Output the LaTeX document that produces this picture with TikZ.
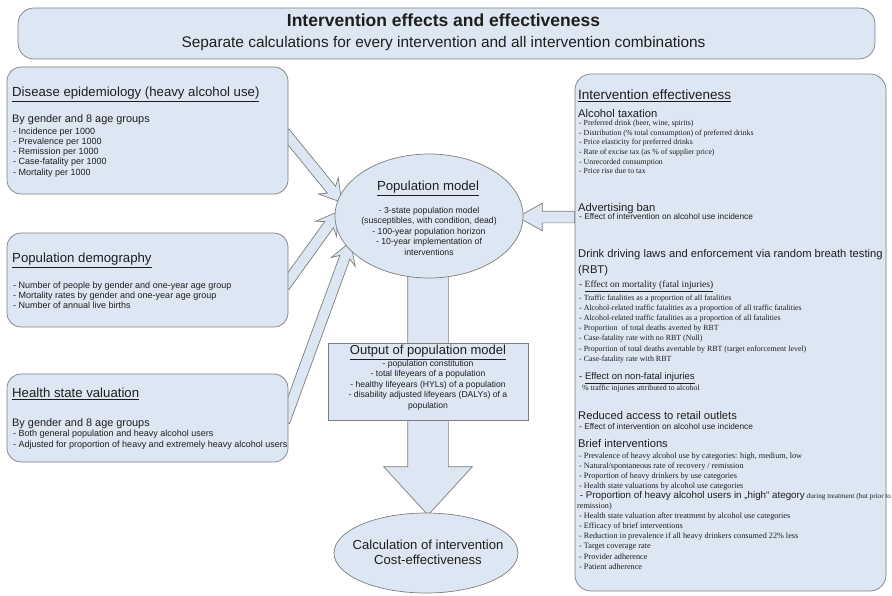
\documentclass[tikz,border=0pt]{standalone}
\usepackage{fontspec}
\setmainfont{Liberation Sans}
\newfontfamily\tnr{Liberation Serif}
\usetikzlibrary{shapes.geometric,shapes.arrows,calc}
\pgfdeclarelayer{bg}
\pgfsetlayers{bg,main}
\definecolor{boxfill}{RGB}{221,231,243}
\definecolor{boxline}{RGB}{125,125,125}
\definecolor{txt}{RGB}{30,30,30}
\newcommand\myfs[1]{\fontsize{#1}{#1}\selectfont}
\newcommand\hollow[4]{\path let \p1=($(#4)-(#3)$), \n1={veclen(\x1,\y1)}, \n2={atan2(\y1,\x1)} in node[#1, minimum height=\n1, rotate=\n2] (#2) at ($(#3)!0.5!(#4)$) {};}
\begin{document}
\begin{tikzpicture}[x=1pt,y=-1pt,
  rbox/.style={draw=boxline, fill=boxfill, line width=0.7pt, rounded corners=14pt, inner sep=0pt},
  sqbox/.style={draw=boxline, fill=boxfill, line width=0.7pt, inner sep=0pt},
  ell/.style={ellipse, draw=boxline, fill=boxfill, line width=0.7pt, inner sep=0pt},
  lt/.style={anchor=base west, inner sep=0pt, text=txt},
  ct/.style={anchor=base, inner sep=0pt, text=txt},
  harrow/.style={single arrow, draw=boxline, fill=boxfill, line width=0.7pt, inner xsep=0pt, inner ysep=5pt, single arrow head extend=7.5pt, single arrow head indent=5pt, single arrow tip angle=62, minimum width=0pt},
  rarrow/.style={harrow, inner ysep=5.5pt, single arrow head extend=8pt, single arrow head indent=0pt, single arrow tip angle=59},
  darrow/.style={harrow, inner ysep=20pt, single arrow head extend=24pt, single arrow head indent=0pt, single arrow tip angle=85},
]
\useasboundingbox (0,0) rectangle (892,595);

% ---------- boxes ----------
\node[rbox, minimum width=857pt, minimum height=51pt, rounded corners=16pt] (hdr) at (446.5,33.5) {};
\node[rbox, minimum width=281pt, minimum height=127pt] (epi) at (147.5,130.5) {};
\node[rbox, minimum width=281pt, minimum height=94pt] (dem) at (147.5,280) {};
\node[rbox, minimum width=281pt, minimum height=88pt] (hsv) at (147.5,418) {};
\node[rbox, minimum width=311pt, minimum height=517pt, rounded corners=16pt] (eff) at (730.5,332.5) {};
\node[ell, minimum width=188pt, minimum height=124pt] (pm) at (429,216) {};
\node[sqbox, minimum width=200pt, minimum height=77pt] (out) at (428,381.5) {};
\node[ell, minimum width=184pt, minimum height=80pt] (calc) at (426,553) {};

% ---------- arrows ----------
\coordinate (e1) at (282,129);
\coordinate (p1) at (339,199);
\coordinate (e2) at (282,290);
\coordinate (p2) at (336,215);
\coordinate (e3) at (283,426);
\coordinate (p3) at (349,246);
\coordinate (er) at (580,217);
\coordinate (pr) at (523,217);
\coordinate (ds) at (428,262);
\coordinate (dt) at (428,504);
\begin{pgfonlayer}{bg}
\hollow{harrow}{a1}{e1}{p1}
\hollow{harrow}{a2}{e2}{p2}
\hollow{harrow}{a3}{e3}{p3}
\hollow{rarrow}{ar}{er}{pr}
\hollow{darrow}{ad}{ds}{dt}
\end{pgfonlayer}

% ---------- header text ----------
\node[ct, font={\bfseries\myfs{17.5}}] (hdrt) at (443.5,26.8) {Intervention effects and effectiveness};
\node[ct, font={\myfs{15.4}}] (hdrs) at (443.5,47.8) {Separate calculations for every intervention and all intervention combinations};

% ---------- left boxes text ----------
\node[lt, font={\myfs{13.2}}] (epit) at (12,96.7) {\underline{Disease epidemiology (heavy alcohol use)}};
\node[lt, font={\myfs{10.9}}] (epis) at (12,122) {By gender and 8 age groups};
\foreach \s [count=\i from 0] in {- Incidence per 1000, - Prevalence per 1000, - Remission per 1000, - Case-fatality per 1000, - Mortality per 1000}
  \node[lt, font={\myfs{9}}] (epi\i) at (13,{134.2+10.2*\i}) {\s};

\node[lt, font={\myfs{13.2}}] (demt) at (12,262.7) {\underline{Population demography}};
\foreach \s [count=\i from 0] in {- Number of people by gender and one-year age group, - Mortality rates by gender and one-year age group, - Number of annual live births}
  \node[lt, font={\myfs{9}}] (dem\i) at (13,{288.2+10*\i}) {\s};

\node[lt, font={\myfs{13.2}}] (hsvt) at (12,397.7) {\underline{Health state valuation}};
\node[lt, font={\myfs{10.9}}] (hsvs) at (12,426) {By gender and 8 age groups};
\foreach \s [count=\i from 0] in {- Both general population and heavy alcohol users, - Adjusted for proportion of heavy and extremely heavy alcohol users}
  \node[lt, font={\myfs{9}}] (hsv\i) at (13,{436.2+11*\i}) {\s};

% ---------- population model ----------
\node[ct, font={\myfs{13.2}}] (pmt) at (428,190.7) {\underline{Population model}};
\foreach \s [count=\i from 0] in {- 3-state population model, {(susceptibles, with condition, dead)}, - 100-year population horizon, - 10-year implementation of, interventions}
  \node[ct, font={\myfs{8.7}}] (pm\i) at (429,{213.1+10.5*\i}) {\s};

% ---------- output ----------
\node[ct, font={\myfs{13}}] (outt) at (428,354.7) {\underline{Output of population model}};
\foreach \s [count=\i from 0] in {- population constitution, - total lifeyears of a population, - healthy lifeyears (HYLs) of a population, - disability adjusted lifeyears (DALYs) of a, population}
  \node[ct, font={\myfs{8.6}}] (out\i) at (428,{366.1+10.5*\i}) {\s};

% ---------- calculation ----------
\node[ct, font={\myfs{13.1}}] (calc1) at (428,549.7) {Calculation of intervention};
\node[ct, font={\myfs{13.1}}] (calc2) at (428,564.7) {Cost-effectiveness};

% ---------- intervention effectiveness ----------
\node[lt, font={\myfs{13.5}}] (efft) at (578,99.7) {\underline{Intervention effectiveness}};
\node[lt, font={\myfs{11.2}}] (taxh) at (578,117) {Alcohol taxation};
\foreach \s [count=\i from 0] in {{- Preferred drink (beer, wine, spirits)}, - Distribution (\% total consumption) of preferred drinks, - Price elasticity for preferred drinks, - Rate of excise tax (as \% of supplier price), - Unrecorded consumption, - Price rise due to tax}
  \node[lt, font={\tnr\myfs{7.8}}] (tax\i) at (579,{125.4+9.7*\i}) {\s};

\node[lt, font={\myfs{11.2}}] (advh) at (578,211) {Advertising ban};
\node[lt, font={\myfs{8.3}}] (adv0) at (579,219.2) {- Effect of intervention on alcohol use incidence};

\node[lt, font={\myfs{11.2}}] (rbth) at (578,257) {Drink driving laws and enforcement via random breath testing};
\node[lt, font={\myfs{11.2}}] (rbth2) at (578,273) {(RBT)};
\node[lt, font={\tnr\myfs{9.5}}] (mort) at (579,287.5) {- \underline{Effect on mortality (fatal injuries)}};
\foreach \s [count=\i from 0] in {- Traffic fatalities as a proportion of all fatalities, - Alcohol-related traffic fatalities as a proportion of all traffic fatalities, - Alcohol-related traffic fatalities as a proportion of all fatalities, - Proportion\ \ of total deaths averted by RBT, - Case-fatality rate with no RBT (Null), - Proportion of total deaths avertable by RBT (target enforcement level), - Case-fatality rate with RBT}
  \node[lt, font={\tnr\myfs{7.9}}] (rbt\i) at (579,{300+10.2*\i}) {\s};

\node[lt, font={\myfs{9.5}}] (nfat) at (579,379.4) {- \underline{Effect on non-fatal injuries}};
\node[lt, font={\tnr\myfs{7.8}}] (nfat0) at (582,390.5) {\% traffic injuries attributed to alcohol};

\node[lt, font={\myfs{11.2}}] (reth) at (578,419) {Reduced access to retail outlets};
\node[lt, font={\myfs{8.3}}] (ret0) at (579,429) {- Effect of intervention on alcohol use incidence};

\node[lt, font={\myfs{11.2}}] (brh) at (578,447) {Brief interventions};
\foreach \s [count=\i from 0] in {{- Prevalence of heavy alcohol use by categories: high, medium, low}, - Natural/spontaneous rate of recovery / remission, - Proportion of heavy drinkers by use categories, - Health state valuations by alcohol use categories}
  \node[lt, font={\tnr\myfs{8.2}}] (br\i) at (579,{458+10.1*\i}) {\s};
\node[lt] (br4) at (577,498.4) {{\myfs{9.8}\ - Proportion of heavy alcohol users in „high“ ategory}{\tnr\myfs{7.2} during treatment (but prior to}};
\node[lt, font={\tnr\myfs{8.2}}] (br5) at (577,508.5) {remission)};
\foreach \s [count=\i from 6] in {- Health state valuation after treatment by alcohol use categories, - Efficacy of brief interventions, - Reduction in prevalence if all heavy drinkers consumed 22\% less, - Target coverage rate, - Provider adherence, - Patient adherence}
  \node[lt, font={\tnr\myfs{8.2}}] (br\i) at (579,{458+10.1*\i}) {\s};
\end{tikzpicture}
\end{document}
